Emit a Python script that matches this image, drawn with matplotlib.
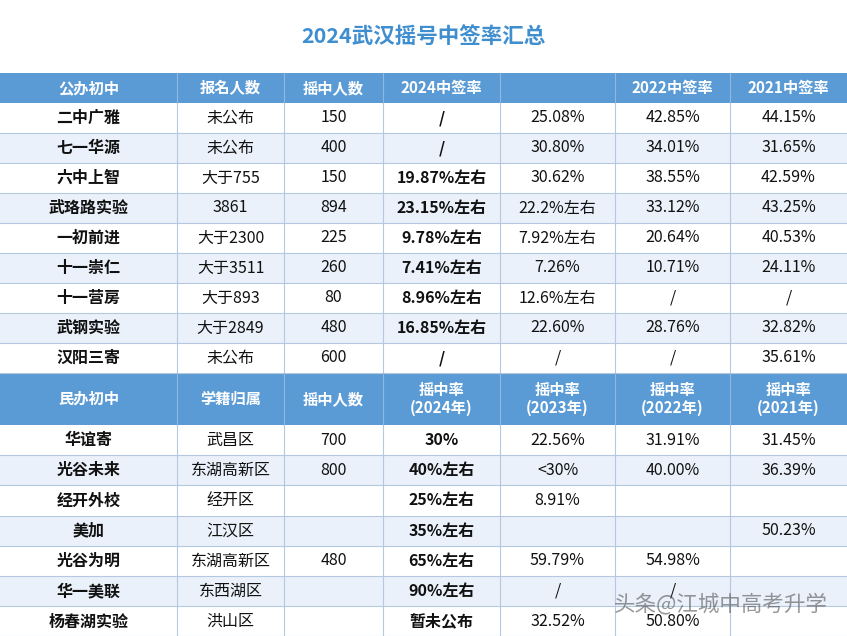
import glob
import matplotlib
matplotlib.use("Agg")
import matplotlib.pyplot as plt
from matplotlib import font_manager as fm
from matplotlib.patches import Rectangle

# register any CJK font files explicitly
for f in glob.glob("/usr/share/fonts/**/*CJK*", recursive=True):
    try:
        fm.fontManager.addfont(f)
    except Exception:
        pass
plt.rcParams['font.family'] = ['Noto Sans CJK SC', 'Noto Sans CJK JP', 'Noto Sans CJK TC',
                               'Noto Sans CJK KR', 'DejaVu Sans']

title = "2024武汉摇号中签率汇总"

# public schools
pub_header = ["公办初中", "报名人数", "摇中人数", "2024中签率", "", "2022中签率", "2021中签率"]
pub_school = ["二中广雅", "七一华源", "六中上智", "武珞路实验", "一初前进", "十一崇仁", "十一营房", "武钢实验", "汉阳三寄"]
pub_applicants = ["未公布", "未公布", "大于755", "3861", "大于2300", "大于3511", "大于893", "大于2849", "未公布"]
pub_admitted = ["150", "400", "150", "894", "225", "260", "80", "480", "600"]
pub_2024 = ["/", "/", "19.87%左右", "23.15%左右", "9.78%左右", "7.41%左右", "8.96%左右", "16.85%左右", "/"]
pub_2023 = ["25.08%", "30.80%", "30.62%", "22.2%左右", "7.92%左右", "7.26%", "12.6%左右", "22.60%", "/"]
pub_2022 = ["42.85%", "34.01%", "38.55%", "33.12%", "20.64%", "10.71%", "/", "28.76%", "/"]
pub_2021 = ["44.15%", "31.65%", "42.59%", "43.25%", "40.53%", "24.11%", "/", "32.82%", "35.61%"]

# private schools
pri_header = ["民办初中", "学籍归属", "摇中人数", "摇中率\n(2024年)", "摇中率\n(2023年)", "摇中率\n(2022年)", "摇中率\n(2021年)"]
pri_school = ["华谊寄", "光谷未来", "经开外校", "美加", "光谷为明", "华一美联", "杨春湖实验"]
pri_district = ["武昌区", "东湖高新区", "经开区", "江汉区", "东湖高新区", "东西湖区", "洪山区"]
pri_admitted = ["700", "800", "", "", "480", "", ""]
pri_2024 = ["30%", "40%左右", "25%左右", "35%左右", "65%左右", "90%左右", "暂未公布"]
pri_2023 = ["22.56%", "<30%", "8.91%", "", "59.79%", "/", "32.52%"]
pri_2022 = ["31.91%", "40.00%", "", "", "54.98%", "/", "50.80%"]
pri_2021 = ["31.45%", "36.39%", "", "50.23%", "", "", ""]

col_x = [0, 177, 284, 383, 500, 615, 730, 847]
BLUE = "#5b9bd5"
LIGHT = "#eaf1fa"
LINE = "#b4c9e0"

fig = plt.figure(figsize=(8.47, 6.36), dpi=100)
ax = fig.add_axes([0, 0, 1, 1])
ax.set_xlim(0, 847)
ax.set_ylim(636, 0)
ax.axis("off")

ax.text(423, 36, title, ha="center", va="center", fontsize=15.5, fontweight="bold", color="#3f8ecf")


def header(y0, h, labels):
    ax.add_patch(Rectangle((0, y0), 847, h, color=BLUE, lw=0))
    for i, lab in enumerate(labels):
        cx = (col_x[i] + col_x[i + 1]) / 2
        ax.text(cx, y0 + h / 2, lab, ha="center", va="center", color="white",
                fontsize=11, fontweight="bold", linespacing=1.15)
    for x in col_x[1:-1]:
        ax.plot([x, x], [y0, y0 + h], color="#8fb7e0", lw=0.8)


def body(y0, h, cols, bold_cols):
    n = len(cols[0])
    for r in range(n):
        y = y0 + r * h
        ax.add_patch(Rectangle((0, y), 847, h, color="white" if r % 2 == 0 else LIGHT, lw=0))
        ax.plot([0, 847], [y + h, y + h], color=LINE, lw=0.8)
        for i, col in enumerate(cols):
            cx = (col_x[i] + col_x[i + 1]) / 2
            ax.text(cx, y + h / 2, col[r], ha="center", va="center", fontsize=11.5,
                    color="#111111", fontweight="bold" if i in bold_cols else "normal")
    for x in col_x[1:-1]:
        ax.plot([x, x], [y0, y0 + n * h], color=LINE, lw=0.8)


header(73, 30, pub_header)
body(103, 30, [pub_school, pub_applicants, pub_admitted, pub_2024, pub_2023, pub_2022, pub_2021], {0, 3})
header(373, 52, pri_header)
body(425, 30.2, [pri_school, pri_district, pri_admitted, pri_2024, pri_2023, pri_2022, pri_2021], {0, 3})

ax.text(828, 605, "头条@江城中高考升学", ha="right", va="center", fontsize=15.5,
        color="#444444", alpha=0.55)

fig.savefig("out.png", dpi=100)
